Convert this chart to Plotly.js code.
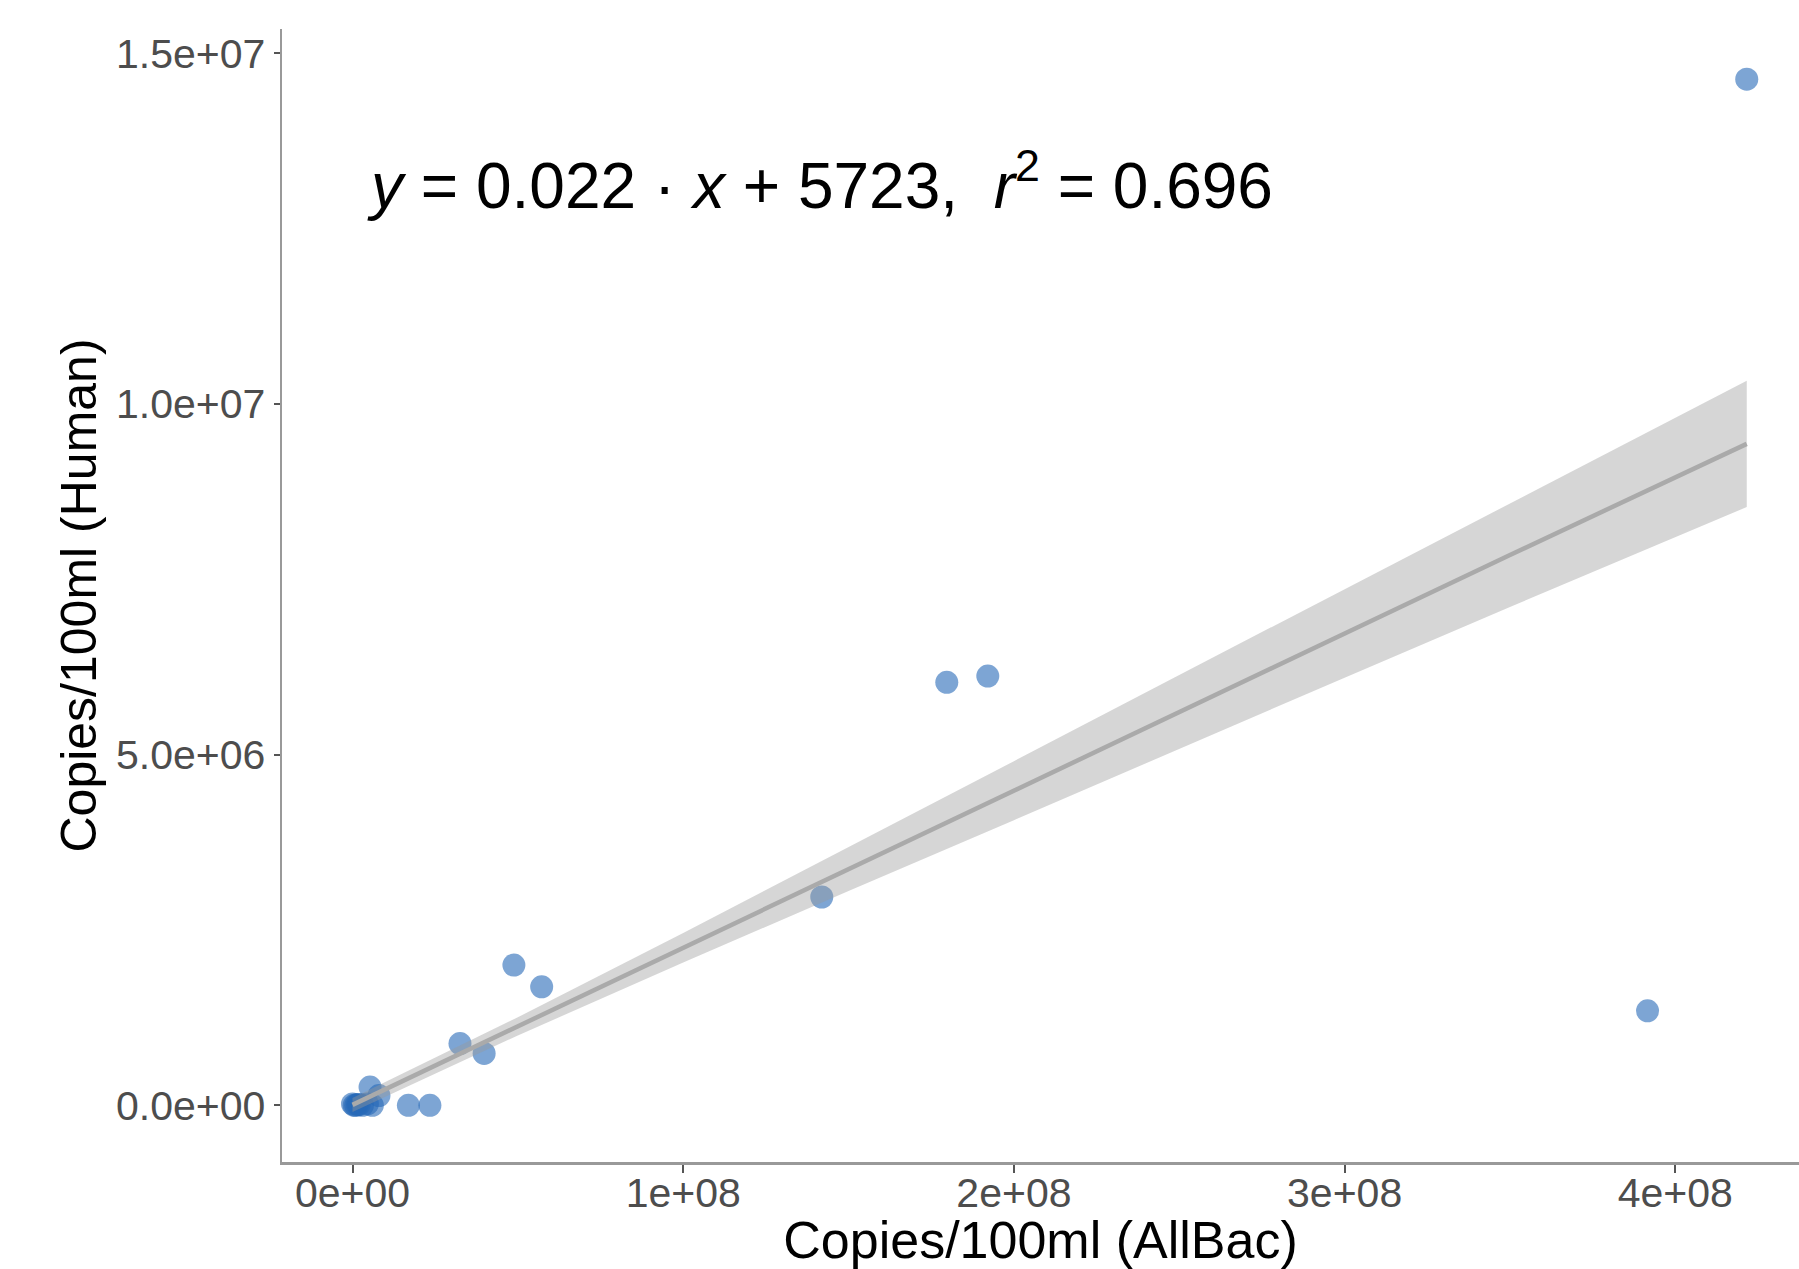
<!DOCTYPE html>
<html>
<head>
<meta charset="utf-8">
<script src="https://cdn.plot.ly/plotly-3.0.1.min.js"></script>
<style>html,body{margin:0;padding:0;background:#fff;}#chart{width:1799px;height:1269px;}</style>
</head>
<body>
<div id="chart"></div>
<script>
// Observed samples: copies/100ml
const allBac = [4.216e8, 3.916e8, 1.921e8, 1.797e8, 1.419e8, 0.572e8, 0.488e8, 0.398e8, 0.325e8,
                0.234e8, 0.169e8, 0.053e8, 0.080e8, 0.060e8, 0.045e8, 0.030e8, 0.015e8, 0.005e8, 0.0, 0.010e8, 0.020e8];
const human  = [14.63e6, 1.347e6, 6.12e6, 6.03e6, 2.97e6, 1.69e6, 2.00e6, 0.74e6, 0.88e6,
                0.0, 0.0, 0.26e6, 0.14e6, 0.0, 0.02e6, 0.0, 0.01e6, 0.0, 0.02e6, 0.0, 0.01e6];

// Fitted line and 95% confidence band
const fitX     = [0, 0.5e8, 1.0e8, 1.5e8, 2.0e8, 2.5e8, 3.0e8, 3.5e8, 4.216e8];
const fitY     = [0.006e6, 1.126e6, 2.246e6, 3.366e6, 4.486e6, 5.606e6, 6.726e6, 7.846e6, 9.43e6];
const bandHigh = [0.106e6, 1.256e6, 2.456e6, 3.676e6, 4.906e6, 6.136e6, 7.356e6, 8.586e6, 10.33e6];
const bandLow  = [-0.094e6, 0.996e6, 2.036e6, 3.056e6, 4.066e6, 5.076e6, 6.096e6, 7.106e6, 8.53e6];

const xTickVals = [0, 1e8, 2e8, 3e8, 4e8];
const xTickText = ["0e+00", "1e+08", "2e+08", "3e+08", "4e+08"];
const yTickVals = [0, 5e6, 1e7, 1.5e7];
const yTickText = ["0.0e+00", "5.0e+06", "1.0e+07", "1.5e+07"];

const equation = "<i>y</i> = 0.022 · <i>x</i> + 5723,&nbsp; <i>r</i><sup>2</sup> = 0.696";

const FONT = "Liberation Sans, Arial, Helvetica, sans-serif";

const traces = [
  {
    type: "scatter", mode: "markers", x: allBac, y: human,
    marker: {size: 23, color: "rgb(38,105,183)", opacity: 0.6, line: {width: 0}},
    hoverinfo: "x+y", showlegend: false
  },
  {
    type: "scatter", mode: "lines",
    x: fitX.concat(fitX.slice().reverse()),
    y: bandHigh.concat(bandLow.slice().reverse()),
    fill: "toself", fillcolor: "rgba(153,153,153,0.4)",
    line: {width: 0}, hoverinfo: "skip", showlegend: false
  },
  {
    type: "scatter", mode: "lines", x: fitX, y: fitY,
    line: {color: "#aaaaaa", width: 4.5}, hoverinfo: "skip", showlegend: false
  }
];

const layout = {
  width: 1799, height: 1269,
  margin: {l: 282, r: 0, t: 29, b: 107, pad: 0},
  paper_bgcolor: "#ffffff", plot_bgcolor: "#ffffff",
  font: {family: FONT, color: "#000"},
  showlegend: false,
  xaxis: {
    range: [-0.2132e8, 4.374e8],
    tickvals: xTickVals, ticktext: xTickText,
    showgrid: false, zeroline: false,
    showline: true, linecolor: "#999999", linewidth: 2.5,
    ticks: "outside", ticklen: 8, tickwidth: 2, tickcolor: "#555555",
    ticklabelstandoff: -15,
    tickfont: {family: FONT, size: 41, color: "#4d4d4d"},
    title: {text: "Copies/100ml (AllBac)", font: {family: FONT, size: 52, color: "#000"}, standoff: 27}
  },
  yaxis: {
    range: [-0.808e6, 15.345e6],
    tickvals: yTickVals, ticktext: yTickText,
    showgrid: false, zeroline: false,
    showline: true, linecolor: "#999999", linewidth: 2.5,
    ticks: "outside", ticklen: 6, tickwidth: 2, tickcolor: "#555555",
    tickfont: {family: FONT, size: 41, color: "#4d4d4d"},
    title: {text: "Copies/100ml (Human)", font: {family: FONT, size: 50, color: "#000"}, standoff: 4}
  },
  annotations: [
    {
      text: equation, xref: "paper", yref: "paper",
      x: 0.0547, y: 0.866, xanchor: "left", yanchor: "middle",
      showarrow: false, font: {family: FONT, size: 64, color: "#000"}
    }
  ]
};

Plotly.newPlot("chart", traces, layout, {staticPlot: true, displayModeBar: false});
</script>
</body>
</html>
